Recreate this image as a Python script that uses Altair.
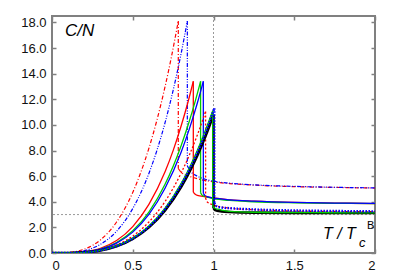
import altair as alt
import pandas as pd

X_TICKS = [0, 0.5, 1, 1.5, 2]
Y_TICKS = [0, 2, 4, 6, 8, 10, 12, 14, 16, 18]
REF_X = [1]
REF_Y = [3]

# red dash-dot
RA_rise_x = [0, 0.1, 0.2, 0.3, 0.4, 0.5, 0.6, 0.65, 0.7, 0.74, 0.782]
RA_rise_y = [0, 0.04, 0.30, 1.02, 2.42, 4.73, 8.18, 10.39, 12.98, 15.34, 18.1]
RA_fall_x = [0.782, 0.8, 0.85, 0.9, 1.0, 1.1, 1.25, 1.5, 1.75, 2.0]
RA_fall_y = [6.6, 6.3, 6.0, 5.8, 5.55, 5.42, 5.3, 5.18, 5.12, 5.07]
# blue dash-dot
BA_rise_x = [0, 0.1, 0.2, 0.3, 0.4, 0.5, 0.6, 0.7, 0.75, 0.8, 0.838]
BA_rise_y = [0, 0.02, 0.18, 0.68, 1.70, 3.47, 6.21, 10.17, 12.69, 15.60, 18.1]
BA_fall_x = [0.838, 0.86, 0.9, 0.95, 1.0, 1.1, 1.25, 1.5, 1.75, 2.0]
BA_fall_y = [6.8, 6.35, 6.0, 5.75, 5.6, 5.45, 5.32, 5.2, 5.13, 5.08]
# red solid
RB_rise_x = [0, 0.1, 0.2, 0.3, 0.4, 0.5, 0.6, 0.7, 0.75, 0.8, 0.84, 0.875]
RB_rise_y = [0, 0.01, 0.10, 0.37, 0.97, 2.06, 3.79, 6.34, 7.99, 9.93, 11.69, 13.4]
RB_fall_x = [0.875, 0.885, 0.9, 0.95, 1.0, 1.1, 1.25, 1.5, 1.75, 2.0]
RB_fall_y = [4.75, 4.6, 4.5, 4.4, 4.3, 4.15, 4.05, 3.95, 3.9, 3.86]
# green solid
GB_rise_x = [0, 0.1, 0.2, 0.3, 0.4, 0.5, 0.6, 0.7, 0.8, 0.85, 0.88, 0.92]
GB_rise_y = [0, 0.01, 0.08, 0.31, 0.82, 1.74, 3.20, 5.36, 8.39, 10.28, 11.54, 13.4]
GB_fall_x = [0.92, 0.93, 0.95, 1.0, 1.1, 1.25, 1.5, 1.75, 2.0]
GB_fall_y = [4.7, 4.5, 4.4, 4.25, 4.1, 4.0, 3.92, 3.88, 3.85]
# blue solid
BB_rise_x = [0, 0.1, 0.2, 0.3, 0.4, 0.5, 0.6, 0.7, 0.8, 0.85, 0.9, 0.937]
BB_rise_y = [0, 0.01, 0.08, 0.30, 0.77, 1.63, 3.01, 5.05, 7.89, 9.67, 11.71, 13.4]
BB_fall_x = [0.937, 0.95, 1.0, 1.1, 1.25, 1.5, 1.75, 2.0]
BB_fall_y = [4.65, 4.45, 4.3, 4.15, 4.05, 3.95, 3.9, 3.87]
# red dashed
RC_rise_x = [0, 0.1, 0.2, 0.3, 0.4, 0.5, 0.6, 0.7, 0.8, 0.85, 0.9, 0.951]
RC_rise_y = [0, 0.01, 0.06, 0.25, 0.63, 1.32, 2.42, 4.02, 6.25, 7.63, 9.21, 11.05]
RC_fall_x = [0.951, 0.96, 1.0, 1.1, 1.25, 1.5, 1.75, 2.0]
RC_fall_y = [4.3, 4.0, 3.75, 3.5, 3.38, 3.28, 3.24, 3.22]
# black thick
BK_rise_x = [0, 0.1, 0.2, 0.3, 0.4, 0.5, 0.6, 0.7, 0.8, 0.85, 0.9, 0.95, 1.0]
BK_rise_y = [0, 0.005, 0.05, 0.20, 0.52, 1.10, 2.00, 3.33, 5.17, 6.32, 7.62, 9.11, 10.8]
BK_fall_x = [1.0, 1.01, 1.05, 1.1, 1.25, 1.5, 1.75, 2.0]
BK_fall_y = [3.5, 3.35, 3.25, 3.2, 3.15, 3.13, 3.12, 3.12]
# green thin near Tc
G2_rise_x = [0, 0.1, 0.2, 0.3, 0.4, 0.5, 0.6, 0.7, 0.8, 0.85, 0.9, 0.95, 0.995]
G2_rise_y = [0, 0.005, 0.05, 0.21, 0.55, 1.16, 2.10, 3.50, 5.43, 6.64, 8.02, 9.58, 11.1]
G2_fall_x = [0.995, 1.0, 1.05, 1.1, 1.25, 1.5, 1.75, 2.0]
G2_fall_y = [3.8, 3.55, 3.35, 3.25, 3.18, 3.15, 3.14, 3.13]
# blue dotted thick
BD_rise_x = [0, 0.1, 0.2, 0.3, 0.4, 0.5, 0.6, 0.7, 0.8, 0.85, 0.9, 0.95, 1.005]
BD_rise_y = [0, 0.005, 0.05, 0.21, 0.54, 1.13, 2.06, 3.43, 5.32, 6.50, 7.84, 9.37, 11.3]
BD_fall_x = [1.005, 1.02, 1.05, 1.1, 1.25, 1.5, 1.75, 2.0]
BD_fall_y = [3.9, 3.65, 3.55, 3.5, 3.4, 3.32, 3.28, 3.25]

CURVES = [
    ("RA", RA_rise_x, RA_rise_y, RA_fall_x, RA_fall_y),
    ("BA", BA_rise_x, BA_rise_y, BA_fall_x, BA_fall_y),
    ("RB", RB_rise_x, RB_rise_y, RB_fall_x, RB_fall_y),
    ("GB", GB_rise_x, GB_rise_y, GB_fall_x, GB_fall_y),
    ("BB", BB_rise_x, BB_rise_y, BB_fall_x, BB_fall_y),
    ("RC", RC_rise_x, RC_rise_y, RC_fall_x, RC_fall_y),
    ("BK", BK_rise_x, BK_rise_y, BK_fall_x, BK_fall_y),
    ("G2", G2_rise_x, G2_rise_y, G2_fall_x, G2_fall_y),
    ("BD", BD_rise_x, BD_rise_y, BD_fall_x, BD_fall_y),
]

STYLE = {
    "RA": dict(color="#ff0000", width=1.2, dash=[4, 2, 1, 2]),
    "BA": dict(color="#0000ff", width=1.2, dash=[4, 1.5, 1, 1.5, 1, 1.5]),
    "RB": dict(color="#ff0000", width=1.3),
    "GB": dict(color="#00cc00", width=1.3),
    "BB": dict(color="#0000ff", width=1.3),
    "RC": dict(color="#ff0000", width=1.3, dash=[2, 2]),
    "BK": dict(color="#000000", width=2.6),
    "G2": dict(color="#00cc00", width=1.3),
    "BD": dict(color="#0000ff", width=2.4, dash=[1.5, 1.5]),
}

rows = []
for name, rx, ry, fx, fy in CURVES:
    i = 0
    for x, y in zip(rx, ry):
        rows.append(dict(curve=name, seg="rise", x=x, y=y, i=i)); i += 1
    rows.append(dict(curve=name, seg="drop", x=rx[-1], y=ry[-1], i=i)); i += 1
    rows.append(dict(curve=name, seg="drop", x=fx[0], y=fy[0], i=i)); i += 1
    for x, y in zip(fx, fy):
        rows.append(dict(curve=name, seg="fall", x=x, y=y, i=i)); i += 1
df = pd.DataFrame(rows)

W, H = 323, 237
FONT = "Liberation Sans"
xs = alt.Scale(domain=[0, 2], nice=False, zero=False)
ys = alt.Scale(domain=[0, 18.5], nice=False, zero=False)


def curve_layer(name):
    s = STYLE[name]
    kw = dict(color=s["color"], strokeWidth=s["width"], interpolate="monotone", clip=True)
    if "dash" in s:
        kw["strokeDash"] = s["dash"]
    return alt.Chart(df).transform_filter(alt.datum.curve == name).mark_line(**kw).encode(
        x=alt.X("x:Q", scale=xs, axis=None),
        y=alt.Y("y:Q", scale=ys, axis=None),
        detail="seg:N",
        order="i:Q",
    )


vref = alt.Chart(pd.DataFrame({"x": REF_X})).mark_rule(
    color="#999999", strokeDash=[2, 2], strokeWidth=1).encode(
    x=alt.X("x:Q", scale=xs, axis=None))
href = alt.Chart(pd.DataFrame({"y": REF_Y})).mark_rule(
    color="#999999", strokeDash=[2, 2], strokeWidth=1).encode(
    y=alt.Y("y:Q", scale=ys, axis=None))

texts = pd.DataFrame({
    "x": [0.08, 1.678, 1.901, 1.950],
    "y": [16.94, 1.09, 0.49, 1.85],
    "t": ["C/N", "T / T", "c", "B"],
    "k": ["a", "b", "c", "d"],
})


def text_layer(key, size, style):
    return alt.Chart(texts).transform_filter(alt.datum.k == key).mark_text(
        align="left", baseline="alphabetic", font=FONT, fontSize=size,
        fontStyle=style, color="#000000").encode(
        x=alt.X("x:Q", scale=xs, axis=None),
        y=alt.Y("y:Q", scale=ys, axis=None),
        text="t:N")


axis_df = pd.DataFrame({"x": [0], "y": [0]})


def axis_layer(xaxis, yaxis):
    return alt.Chart(axis_df).mark_point(opacity=0).encode(
        x=alt.X("x:Q", scale=xs, axis=xaxis),
        y=alt.Y("y:Q", scale=ys, axis=yaxis))


lab_common = dict(ticks=False, domain=False, grid=False, title=None,
                  labelFont=FONT, labelFontSize=13, labelColor="#111111")
tick_common = dict(labels=False, domain=False, grid=False, title=None,
                   ticks=True, tickSize=4, tickWidth=1.5, tickColor="#808080")

ax_labels = axis_layer(
    alt.Axis(orient="bottom", values=X_TICKS, format="~g", labelPadding=6, **lab_common),
    alt.Axis(orient="left", values=Y_TICKS, format=".1f", labelPadding=6, **lab_common))
ax_in1 = axis_layer(
    alt.Axis(orient="top", offset=-H, values=X_TICKS, **tick_common),
    alt.Axis(orient="right", offset=-W, values=Y_TICKS, **tick_common))
ax_in2 = axis_layer(
    alt.Axis(orient="bottom", offset=-H, values=X_TICKS, **tick_common),
    alt.Axis(orient="left", offset=-W, values=Y_TICKS, **tick_common))

layers = [vref, href] + [curve_layer(c[0]) for c in CURVES] + [
    text_layer("a", 17, "italic"),
    text_layer("b", 16, "italic"),
    text_layer("c", 13, "italic"),
    text_layer("d", 11, "normal"),
    ax_labels, ax_in1, ax_in2,
]

chart = alt.layer(*layers).resolve_axis(x="independent", y="independent").properties(
    width=W, height=H,
    autosize=alt.AutoSizeParams(type="none"),
    padding={"left": 44, "top": 8, "right": 17, "bottom": 19},
).configure_view(stroke="#808080", strokeWidth=2)

chart.save("out.html", embed_options={"renderer": "svg", "actions": False})
